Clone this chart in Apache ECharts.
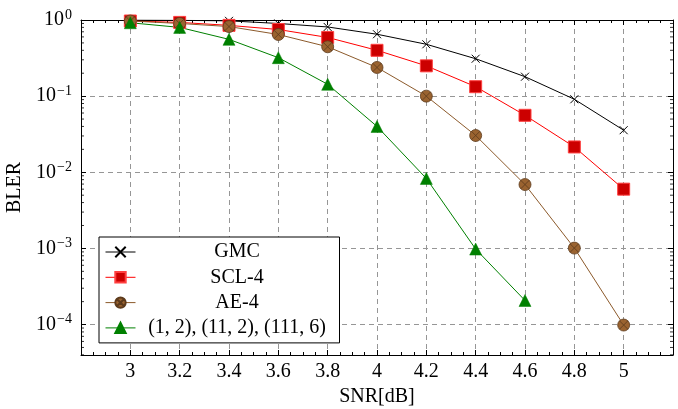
<!DOCTYPE html>
<html lang="en">
<head>
    <meta charset="UTF-8">
    <script src="https://cdn.jsdelivr.net/npm/echarts@6/dist/echarts.min.js"></script>
    <title>BLER vs SNR</title>
    <style>
        html, body { margin: 0; padding: 0; background: #fff; }
    </style>
</head>
<body>
<div id="chart" style="width: 678px; height: 409px;"></div>

<script>
    // data
    const snr = [3, 3.2, 3.4, 3.6, 3.8, 4, 4.2, 4.4, 4.6, 4.8, 5];
    const gmc = [1.0, 0.99, 0.975, 0.90, 0.81, 0.65, 0.48, 0.31, 0.18, 0.091, 0.0357];
    const scl4 = [0.97, 0.93, 0.85, 0.75, 0.59, 0.40, 0.25, 0.133, 0.056, 0.0215, 0.006];
    const ae4 = [0.97, 0.90, 0.82, 0.645, 0.445, 0.238, 0.10, 0.0304, 0.0069, 0.00101, 0.0000985];
    const prop = [0.92, 0.80, 0.557, 0.32, 0.143, 0.040, 0.0083, 0.00098, 0.000207];
    const names = ['GMC', 'SCL-4', 'AE-4', '(1, 2), (11, 2), (111, 6)'];
    const yDecades = [-4, -3, -2, -1, 0];

    const X_MIN = 2.8, X_MAX = 5.2;
    const Y_MIN = Math.pow(10, -4.4), Y_MAX = 1;
    const FONT = 'Liberation Serif';
    const FS = 20;

    // log minor ticks (2..9 x 10^n)
    const minorVals = [];
    for (let n = -5; n < 0; n++) {
        for (let k = 2; k <= 9; k++) {
            const v = k * Math.pow(10, n);
            if (v > Y_MIN && v < Y_MAX) minorVals.push(v);
        }
    }

    const pair = (ys) => ys.map((y, i) => [snr[i], y]);

    const crossPath = 'path://M0 0L10 10M10 0L0 10';
    const otimesPath = 'path://M20 10A10 10 0 1 1 0 10A10 10 0 1 1 20 10Z' +
        'M2.93 2.93L17.07 17.07M17.07 2.93L2.93 17.07';

    const xLabel = (v) => (v < X_MIN + 0.1 || v > X_MAX - 0.1) ? '' : String(Number(v.toFixed(1)));
    const yLabel = (v) => {
        const e = Math.log10(v);
        const r = Math.round(e);
        if (Math.abs(e - r) > 1e-6 || yDecades.indexOf(r) < 0) return '';
        return '{b|10}{s|' + (r < 0 ? '\u2212' + (-r) : r) + '}';
    };

    const gridLine = { show: true, lineStyle: { color: '#969696', type: [5, 4], width: 1 } };
    const blackLine = { show: true, lineStyle: { color: '#000', width: 1 } };

    const chart = echarts.init(document.getElementById('chart'));

    const option = {
        animation: false,
        backgroundColor: '#fff',
        textStyle: { fontFamily: FONT },
        grid: { left: 81, right: 5, top: 20, bottom: 54, containLabel: false, outerBoundsMode: 'none' },
        legend: {
            data: names,
            orient: 'vertical',
            left: 99,
            top: 237,
            width: 238,
            padding: [5, 6, 5, 6],
            itemWidth: 30,
            itemHeight: 13,
            itemGap: 5.3,
            itemTextGap: 4,
            backgroundColor: '#fff',
            borderColor: '#000',
            borderWidth: 1,
            borderRadius: 0,
            lineStyle: { width: 1 },
            formatter: '{t|{name}}',
            textStyle: {
                fontFamily: FONT,
                fontSize: FS,
                color: '#000',
                rich: {
                    t: { width: 193, align: 'center', fontSize: FS, lineHeight: 20, fontFamily: FONT }
                }
            }
        },
        xAxis: [{
            type: 'value',
            position: 'bottom',
            min: X_MIN,
            max: X_MAX,
            interval: 0.2,
            name: 'SNR[dB]',
            nameLocation: 'middle',
            nameGap: 31,
            nameTextStyle: { fontFamily: FONT, fontSize: FS, color: '#000' },
            axisLine: blackLine,
            axisTick: { inside: true, length: 5, lineStyle: { color: '#000' } },
            minorTick: { show: true, splitNumber: 4, length: 3, lineStyle: { color: '#000' } },
            axisLabel: { formatter: xLabel, margin: 7, fontFamily: FONT, fontSize: FS, color: '#000',
                showMinLabel: false, showMaxLabel: false },
            splitLine: gridLine
        }, {
            type: 'value',
            position: 'top',
            min: X_MIN,
            max: X_MAX,
            interval: 0.2,
            axisLine: blackLine,
            axisTick: { inside: true, length: 5, lineStyle: { color: '#000' } },
            minorTick: { show: true, splitNumber: 4, length: 3, lineStyle: { color: '#000' } },
            axisLabel: { show: false },
            splitLine: { show: false }
        }],
        yAxis: [{
            type: 'log',
            logBase: 10,
            position: 'left',
            min: Y_MIN,
            max: Y_MAX,
            name: 'BLER',
            nameLocation: 'middle',
            nameGap: 52,
            nameRotate: 90,
            nameTextStyle: { fontFamily: FONT, fontSize: FS, color: '#000' },
            axisLine: blackLine,
            axisTick: { inside: true, length: 5, lineStyle: { color: '#000' } },
            axisLabel: {
                formatter: yLabel,
                margin: 9,
                color: '#000',
                rich: {
                    b: { fontFamily: FONT, fontSize: FS, color: '#000' },
                    s: { fontFamily: FONT, fontSize: 14, color: '#000', padding: [0, 0, 10, 1] }
                }
            },
            splitLine: gridLine
        }, {
            type: 'log',
            logBase: 10,
            position: 'right',
            min: Y_MIN,
            max: Y_MAX,
            axisLine: blackLine,
            axisTick: { inside: true, length: 5, lineStyle: { color: '#000' } },
            axisLabel: { show: false },
            splitLine: { show: false }
        }],
        series: [{
            name: names[0],
            type: 'line',
            data: pair(gmc),
            symbol: crossPath,
            symbolSize: 8,
            lineStyle: { color: '#000', width: 1 },
            itemStyle: { color: '#000', borderColor: '#000', borderWidth: 1 }
        }, {
            name: names[1],
            type: 'line',
            data: pair(scl4),
            symbol: 'rect',
            symbolSize: 12,
            lineStyle: { color: '#ff0000', width: 1 },
            itemStyle: { color: '#cc0000', borderColor: '#ff4040', borderWidth: 1 }
        }, {
            name: names[2],
            type: 'line',
            data: pair(ae4),
            symbol: otimesPath,
            symbolSize: 12,
            lineStyle: { color: '#8c5a2b', width: 1 },
            itemStyle: { color: '#9a6330', borderColor: '#5c3a1c', borderWidth: 0.8 }
        }, {
            name: names[3],
            type: 'line',
            data: pair(prop),
            symbol: 'triangle',
            symbolSize: 12,
            lineStyle: { color: '#008000', width: 1 },
            itemStyle: { color: '#008000', borderColor: '#008000', borderWidth: 0.5 }
        }, {
            // log-style minor ticks on the left and right frame
            type: 'custom',
            silent: true,
            data: minorVals.map(v => [X_MIN, v]),
            renderItem: (params, api) => {
                const v = api.value(1);
                const l = api.coord([X_MIN, v]);
                const r = api.coord([X_MAX, v]);
                const st = { stroke: '#000', lineWidth: 0.8 };
                return {
                    type: 'group',
                    children: [
                        { type: 'line', shape: { x1: l[0], y1: l[1], x2: l[0] + 3, y2: l[1] }, style: st },
                        { type: 'line', shape: { x1: r[0], y1: r[1], x2: r[0] - 3, y2: r[1] }, style: st }
                    ]
                };
            }
        }]
    };

    chart.setOption(option);
</script>

</body>
</html>
